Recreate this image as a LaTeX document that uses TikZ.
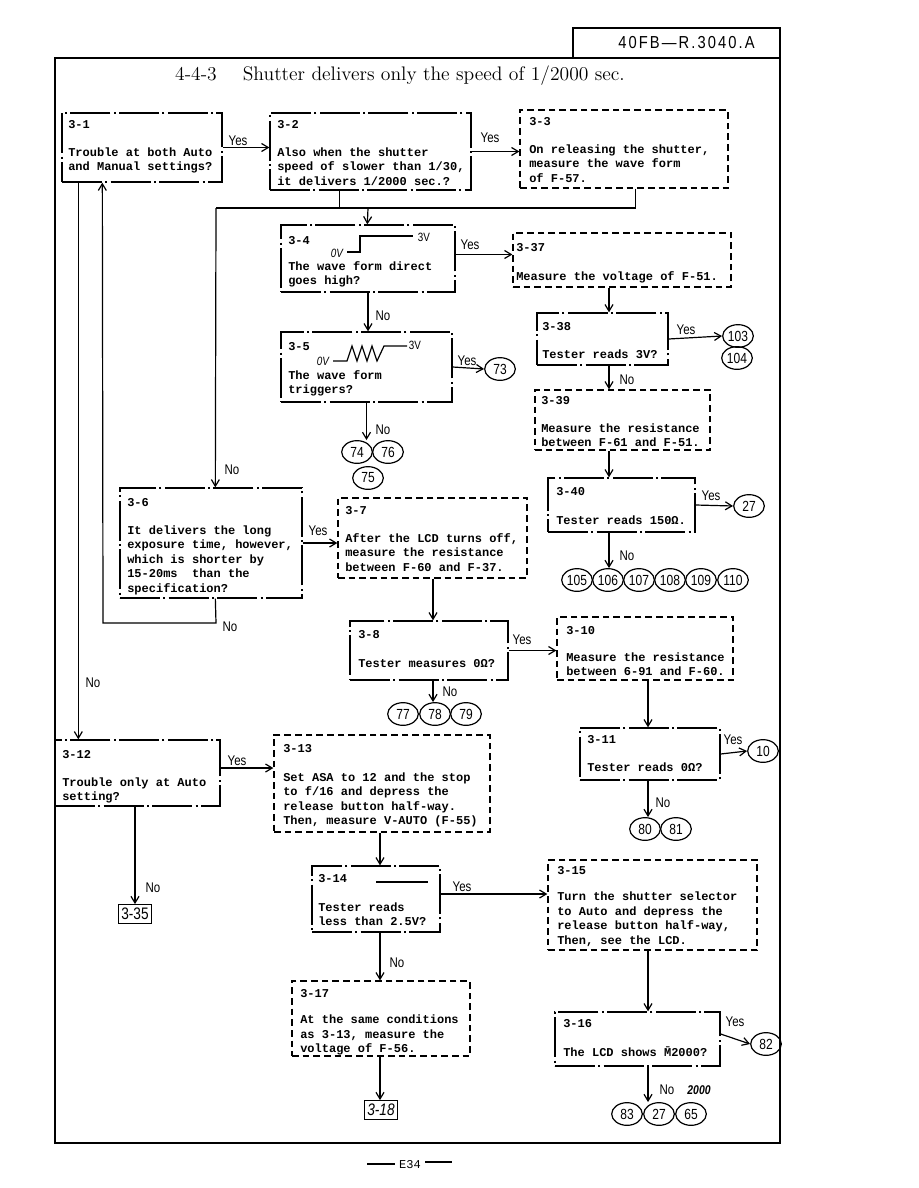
\documentclass[tikz,border=0pt]{standalone}
\usepackage{fontspec}
\newfontfamily\boxfont{Liberation Mono}
\newfontfamily\handfont{Liberation Sans}[FakeStretch=0.82]
\newfontfamily\hdrfont{Liberation Sans}[FakeStretch=0.85,LetterSpace=12]
\usetikzlibrary{arrows.meta,shapes.geometric,fit}
\tikzset{
  solidbox/.style={draw, line width=1pt, inner sep=0pt, dash pattern=on 30pt off 2.5pt on 1.5pt off 2.5pt},
  dashbox/.style={draw, line width=1pt, inner sep=0pt, dash pattern=on 5pt off 3pt},
  txt/.style={anchor=north west, inner sep=0pt, align=left, font=\boxfont\bfseries\fontsize{9}{10.9}\selectfont},
  arr/.style={line width=0.9pt, -{Straight Barb[length=5pt,width=6pt]}},
  ln/.style={line width=0.9pt},
  circ/.style={ellipse, draw, line width=0.9pt, minimum width=23pt, minimum height=17pt, inner sep=0pt, font=\handfont\fontsize{11}{12}\selectfont},
  yn/.style={font=\handfont\fontsize{10.5}{12}\selectfont, inner sep=0pt},
  endbox/.style={draw, line width=1pt, inner xsep=2pt, inner ysep=2.5pt, font=\handfont\fontsize{12.5}{13}\selectfont},
  wv/.style={font=\handfont\fontsize{9}{10}\selectfont, inner sep=0pt},
}
\begin{document}
\begin{tikzpicture}[x=0.75pt,y=-0.75pt]
\useasboundingbox (0,0) rectangle (918,1188);
% frame and header
\draw[line width=1.4pt] (55,58) rectangle (780,1143);
\node[draw, line width=1.2pt, inner sep=0pt, fit={(573,28) (780,58)}] (hdr) {};
\node[font=\hdrfont\fontsize{13}{14}\selectfont] (hdrt) at ([shift={(10,0)}]hdr.center) {40FB—R.3040.A};
\node[font=\fontsize{14.7}{17}\selectfont] (title) at (400,76) {4-4-3\quad\ Shutter delivers only the speed of 1/2000 sec.};

% boxes
\node[solidbox, fit={(62,113) (222,182)}] (b31) {};
\node[txt] (t31) at (68,120) {3-1\\[10pt]Trouble at both Auto\\and Manual settings?};
\node[solidbox, fit={(270,113) (471,190)}] (b32) {};
\node[txt] (t32) at (277,120) {3-2\\[10pt]Also when the shutter\\speed of slower than 1/30,\\it delivers 1/2000 sec.?};
\node[dashbox, fit={(520,110) (728,188)}] (b33) {};
\node[txt] (t33) at (529,117) {3-3\\[10pt]On releasing the shutter,\\measure the wave form\\of F-57.};
\node[solidbox, fit={(281,225) (455,292)}] (b34) {};
\node[txt] (t34) at (288,236) {3-4\\[8.6pt]The wave form direct\\goes high?};
\node[dashbox, fit={(513,233) (731,287)}] (b337) {};
\node[txt] (t337) at (516,243) {3-37\\[10.8pt]Measure the voltage of F-51.};
\node[solidbox, fit={(281,332) (452,402)}] (b35) {};
\node[txt] (t35) at (288,342) {3-5\\[10.8pt]The wave form\\triggers?};
\node[solidbox, fit={(537,313) (668,365)}] (b338) {};
\node[txt] (t338) at (542,322) {3-38\\[10pt]Tester reads 3V?};
\node[dashbox, fit={(535,390) (710,450)}] (b339) {};
\node[txt] (t339) at (541,396) {3-39\\[10pt]Measure the resistance\\between F-61 and F-51.};
\node[solidbox, fit={(548,478) (695,532)}] (b340) {};
\node[txt] (t340) at (556,487) {3-40\\[10.8pt]Tester reads 150Ω.};
\node[solidbox, fit={(120,488) (302,598)}] (b36) {};
\node[txt] (t36) at (127,498) {3-6\\[10pt]It delivers the long\\exposure time, however,\\which is shorter by\\15-20ms\ \ than the\\specification?};
\node[dashbox, fit={(338,498) (527,578)}] (b37) {};
\node[txt] (t37) at (345,506) {3-7\\[10pt]After the LCD turns off,\\measure the resistance\\between F-60 and F-37.};
\node[solidbox, fit={(350,621) (508,680)}] (b38) {};
\node[txt] (t38) at (358,630) {3-8\\[10.8pt]Tester measures 0Ω?};
\node[dashbox, fit={(557,617) (733,680)}] (b310) {};
\node[txt] (t310) at (566,626) {3-10\\[9.3pt]Measure the resistance\\between 6-91 and F-60.};
\node[solidbox, fit={(580,728) (720,780)}] (b311) {};
\node[txt] (t311) at (587,735) {3-11\\[10pt]Tester reads 0Ω?};
\node[solidbox, fit={(55,740) (220,806)}] (b312) {};
\node[txt] (t312) at (62,750) {3-12\\[10pt]Trouble only at Auto\\setting?};
\node[dashbox, fit={(274,735) (490,832)}] (b313) {};
\node[txt] (t313) at (283,744) {3-13\\[10.8pt]Set ASA to 12 and the stop\\to f/16 and depress the\\release button half-way.\\Then, measure V-AUTO (F-55)};
\node[solidbox, fit={(312,866) (440,932)}] (b314) {};
\node[txt] (t314) at (318,874) {3-14\\[10.8pt]Tester reads\\less than 2.5V?};
\node[dashbox, fit={(548,860) (757,950)}] (b315) {};
\node[txt] (t315) at (557,866) {3-15\\[9pt]Turn the shutter selector\\to Auto and depress the\\release button half-way,\\Then, see the LCD.};
\node[dashbox, fit={(292,981) (470,1056)}] (b317) {};
\node[txt] (t317) at (300,989) {3-17\\[9pt]At the same conditions\\as 3-13, measure the\\voltage of F-56.};
\node[solidbox, fit={(555,1012) (720,1066)}] (b316) {};
\node[txt] (t316) at (563,1019) {3-16\\[10.8pt]The LCD shows \=M2000?};

% waveforms
\draw[ln] (347,252) -- (360,252) -- (360,236) -- (413,236);
\node[wv, font=\handfont\itshape\fontsize{9}{10}\selectfont] (w0a) at (337,253) {0V};
\node[wv] (w3a) at (424,237) {3V};
\draw[ln] (333,361) -- (347,361) -- (352,346) -- (357,361) -- (362,346) -- (367,361) -- (372,346) -- (377,361) -- (384,346) -- (407,346);
\node[wv, font=\handfont\itshape\fontsize{9}{10}\selectfont] (w0b) at (323,361) {0V};
\node[wv] (w3b) at (415,345) {3V};
\draw[ln] (376,882) -- (428,882);

% circles
\node[circ] (c73) at (500,369) {73};
\node[circ] (c103) at (738,336) {103};
\node[circ] (c104) at (737,358) {104};
\node[circ] (c74) at (357,452) {74};
\node[circ] (c76) at (388,452) {76};
\node[circ] (c75) at (368,478) {75};
\node[circ] (c27a) at (749,506) {27};
\node[circ] (c105) at (577,580) {105};
\node[circ] (c106) at (608,580) {106};
\node[circ] (c107) at (639,580) {107};
\node[circ] (c108) at (670,580) {108};
\node[circ] (c109) at (701,580) {109};
\node[circ] (c110) at (733,580) {110};
\node[circ] (c77) at (403,714) {77};
\node[circ] (c78) at (435,714) {78};
\node[circ] (c79) at (466,714) {79};
\node[circ] (c10) at (763,751) {10};
\node[circ] (c80) at (645,829) {80};
\node[circ] (c81) at (676,829) {81};
\node[circ] (c82) at (766,1044) {82};
\node[circ] (c83) at (627,1114) {83};
\node[circ] (c27b) at (659,1114) {27};
\node[circ] (c65) at (691,1114) {65};
\node[endbox] (b335) at (135,914) {3-35};
\node[endbox, font=\handfont\itshape\fontsize{12.5}{13}\selectfont] (b318) at (381,1110) {3-18};

% columns and junctions
\coordinate (colR) at (609,0);
\coordinate (colM) at (433,0);
\coordinate (colR2) at (648,0);
\coordinate (colC) at (380,0);
\coordinate (j1) at (216,208);
\coordinate (j2) at (368,208);
\coordinate (k1) at (216,623);
\coordinate (k2) at (103,623);
\coordinate (p32) at ([shift={(70,0)}]b32.south west);
\coordinate (p33) at ([shift={(116,0)}]b33.south west);

% connectors
\draw[arr] ([shift={(17,0)}]b31.south west) -- ([shift={(24,0)}]b312.north west);
\draw[arr] ([shift={(96,0)}]b36.south west) -- (k1) -- (k2) -- ([shift={(41,0)}]b31.south west);
\draw[ln] (p32) -- (p32 |- j1);
\draw[ln] (p33) |- (j1);
\draw[arr] (j1) -- ([shift={(96,0)}]b36.north west);
\draw[arr] (j2) -- ([shift={(87,0)}]b34.north west);
\draw[arr] (b31.east) -- (b31.east -| b32.west);
\draw[arr] (b32.east) -- (b32.east -| b33.west);
\draw[arr] ([shift={(0,-4)}]b34.east) -- ([shift={(0,-4)}]b34.east -| b337.west);
\draw[arr] (b35.east) -- (c73.west);
\draw[arr] (b338.east) -- (c103.west);
\draw[arr] (b340.east) -- (c27a.west);
\draw[arr] (b36.east) -- (b36.east -| b37.west);
\draw[arr] (b38.east) -- (b38.east -| b310.west);
\draw[arr] (b311.east) -- (c10.west);
\draw[arr] ([shift={(0,-5)}]b312.east) -- ([shift={(0,-5)}]b312.east -| b313.west);
\draw[arr] ([shift={(0,-5)}]b314.east) -- ([shift={(0,-5)}]b314.east -| b315.west);
\draw[arr] ([shift={(0,-5)}]b316.east) -- (c82.west);
\draw[arr] (b34.south) -- (b34.south |- b35.north);
\draw[arr] (b35.south) -- (b35.south |- c74.north);
\draw[arr] (b337.south -| colR) -- (b338.north -| colR);
\draw[arr] (b338.south -| colR) -- (b339.north -| colR);
\draw[arr] (b339.south -| colR) -- (b340.north -| colR);
\draw[arr] (b340.south -| colR) -- (c106.north -| colR);
\draw[arr] (b37.south -| colM) -- (b38.north -| colM);
\draw[arr] (b38.south -| colM) -- (c78.north -| colM);
\draw[arr] (b310.south -| colR2) -- (b311.north -| colR2);
\draw[arr] (b311.south -| colR2) -- (c80.north -| colR2);
\draw[arr] (b315.south -| colR2) -- (b316.north -| colR2);
\draw[arr] (b316.south -| colR2) -- (c27b.north -| colR2);
\draw[arr] (b313.south -| colC) -- (b314.north -| colC);
\draw[arr] (b314.south -| colC) -- (b317.north -| colC);
\draw[arr] (b317.south -| colC) -- (b318.north -| colC);
\draw[arr] (b312.south -| b335.north) -- (b335.north);

% Yes / No labels
\node[yn] (y1) at (238,141) {Yes};
\node[yn] (y2) at (490,138) {Yes};
\node[yn] (y3) at (470,245) {Yes};
\node[yn] (y4) at (467,361) {Yes};
\node[yn] (y5) at (686,330) {Yes};
\node[yn] (y6) at (711,496) {Yes};
\node[yn] (y7) at (318,531) {Yes};
\node[yn] (y8) at (522,640) {Yes};
\node[yn] (y9) at (733,740) {Yes};
\node[yn] (y10) at (237,761) {Yes};
\node[yn] (y11) at (462,887) {Yes};
\node[yn] (y12) at (735,1022) {Yes};
\node[yn] (n1) at (93,683) {No};
\node[yn] (n2) at (232,470) {No};
\node[yn] (n3) at (230,627) {No};
\node[yn] (n4) at (383,316) {No};
\node[yn] (n5) at (383,430) {No};
\node[yn] (n6) at (627,380) {No};
\node[yn] (n7) at (627,556) {No};
\node[yn] (n8) at (450,692) {No};
\node[yn] (n9) at (663,803) {No};
\node[yn] (n10) at (153,888) {No};
\node[yn] (n11) at (397,963) {No};
\node[yn] (n12) at (667,1090) {No};
\node[font=\handfont\bfseries\itshape\fontsize{9.5}{10}\selectfont, inner sep=0pt] (n12b) at (699,1090) {2000};

% footer
\node[font=\boxfont\fontsize{9}{10}\selectfont, inner sep=1pt] (foot) at (410,1165) {E34};
\draw[ln] (367,1164) -- (395,1164);
\draw[ln] (425,1162) -- (452,1162);
\end{tikzpicture}
\end{document}
